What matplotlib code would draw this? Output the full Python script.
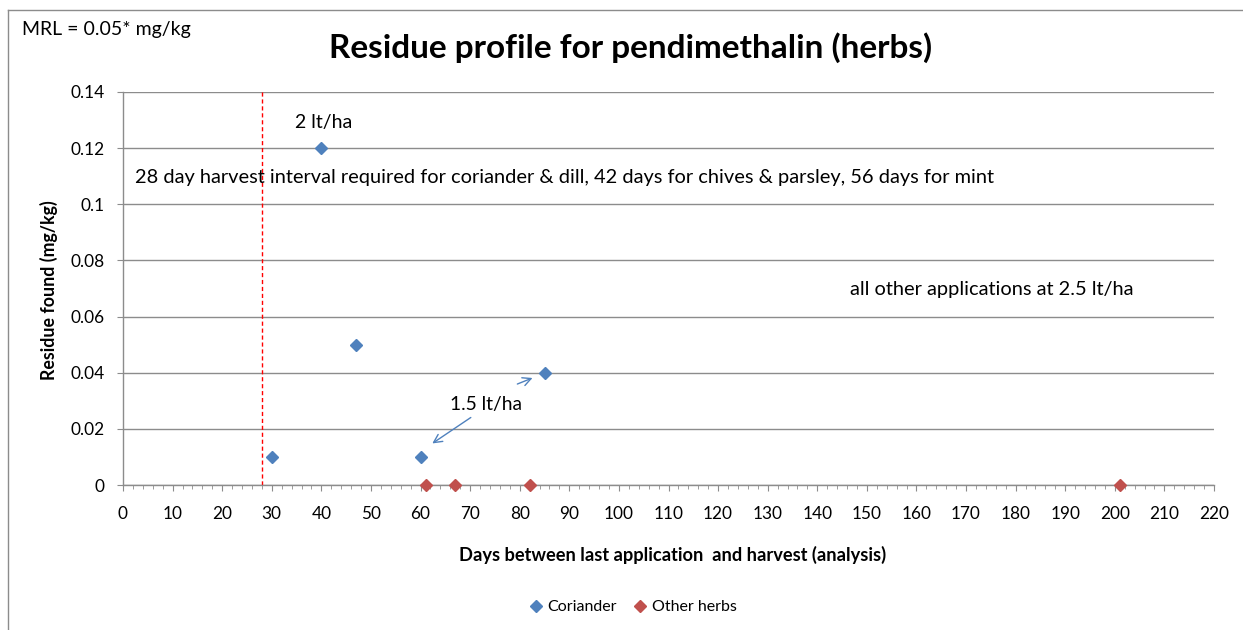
import matplotlib
matplotlib.use("Agg")
import matplotlib.pyplot as plt
from matplotlib.ticker import MultipleLocator
from matplotlib.lines import Line2D

plt.rcParams['font.family'] = ['Lato', 'DejaVu Sans']

coriander_days = [30, 40, 47, 60, 85]
coriander_res = [0.01, 0.12, 0.05, 0.01, 0.04]
other_days = [61, 67, 82, 201]
other_res = [0.0, 0.0, 0.0, 0.0]
harvest_interval = 28
y_ticks = [0, 0.02, 0.04, 0.06, 0.08, 0.1, 0.12, 0.14]
y_ticklabels = ['0', '0.02', '0.04', '0.06', '0.08', '0.1', '0.12', '0.14']

blue = '#4F81BD'
red = '#C0504D'
grid = '#8C8C8C'

W, H = 1243, 630
fig = plt.figure(figsize=(W / 100, H / 100), dpi=100)
ax = fig.add_axes([123 / W, 1 - 485 / H, (1214 - 123) / W, (485 - 92) / H])

ax.set_xlim(0, 220)
ax.set_ylim(0, 0.14)
ax.xaxis.set_major_locator(MultipleLocator(10))
ax.xaxis.set_minor_locator(MultipleLocator(2))
ax.set_yticks(y_ticks)
ax.set_yticklabels(y_ticklabels)
ax.grid(axis='y', color=grid, linewidth=1.0, zorder=0)
ax.set_axisbelow(True)
for s in ['top', 'right']:
    ax.spines[s].set_visible(False)
for s in ['left', 'bottom']:
    ax.spines[s].set_color(grid)
    ax.spines[s].set_linewidth(1.0)
ax.tick_params(axis='both', which='major', direction='out', length=4.3, color=grid,
               labelsize=11.8)
ax.tick_params(axis='y', which='major', pad=9)
ax.tick_params(axis='x', which='major', pad=11)
ax.tick_params(axis='x', which='minor', direction='out', length=3, color=grid)

ax.axvline(harvest_interval, color='red', linestyle=(0, (3, 2)), linewidth=1.0, zorder=2)

ax.plot(coriander_days, coriander_res, linestyle='none', marker='D', markersize=6.5,
        color=blue, zorder=4, clip_on=False)
ax.plot(other_days, other_res, linestyle='none', marker='D', markersize=6.5,
        color=red, zorder=4, clip_on=False)

xl = ax.set_xlabel('Days between last application  and harvest (analysis)', fontsize=10.5,
                   fontweight='bold', va='center')
ax.xaxis.set_label_coords((673 - 123) / 1091, (485 - 555) / 393)
yl = ax.set_ylabel('Residue found (mg/kg)', fontsize=10.5, fontweight='bold', va='center')
ax.yaxis.set_label_coords((49 - 123) / 1091, (485 - 290) / 393)

t_2 = ax.text(40.5, 0.129, '2 lt/ha', fontsize=12, ha='center', va='center')
t_28 = ax.text(2.4, 0.1097, '28 day harvest interval required for coriander & dill, 42 days for chives & parsley, 56 days for mint',
               fontsize=12, ha='left', va='center')
t_all = ax.text(146.6, 0.0695, 'all other applications at 2.5 lt/ha', fontsize=12, ha='left', va='center')
t_15 = ax.text(73.2, 0.0285, '1.5 lt/ha', fontsize=12, ha='center', va='center')
ax.annotate('', xy=(83.1, 0.0385), xytext=(79.0, 0.0356),
            arrowprops=dict(arrowstyle='->', color=blue, lw=1.0, mutation_scale=15))
ax.annotate('', xy=(61.9, 0.01425), xytext=(70.6, 0.0246),
            arrowprops=dict(arrowstyle='->', color=blue, lw=1.0, mutation_scale=15))

t_title = fig.text(631 / W, 1 - 48 / H, 'Residue profile for pendimethalin (herbs)', fontsize=19,
                   fontweight='bold', ha='center', va='center')
t_mrl = fig.text(22 / W, 1 - 30 / H, 'MRL = 0.05* mg/kg', fontsize=12, ha='left', va='center')

handles = [Line2D([], [], linestyle='none', marker='D', markersize=6, color=blue),
           Line2D([], [], linestyle='none', marker='D', markersize=6, color=red)]
leg = fig.legend(handles, ['Coriander', 'Other herbs'], loc='center',
                 bbox_to_anchor=(633 / W, 1 - 607 / H),
                 ncol=2, frameon=False, fontsize=11.5, handlelength=0.8, handletextpad=0.3,
                 columnspacing=1.1)

# fit text sizes to the reference widths (pixels)
fig.canvas.draw()
r = fig.canvas.get_renderer()
def scale_for(t, px, vertical=False):
    bb = t.get_window_extent(r)
    cur = bb.height if vertical else bb.width
    return t.get_fontsize() * px / cur

def fit(t, px, vertical=False):
    t.set_fontsize(scale_for(t, px, vertical))

fit(t_title, 602)
fit(t_28, 858)
fit(t_all, 283)
fit(t_mrl, 168)
fit(t_2, 57)
fit(t_15, 72)
fit(xl, 427)
fit(yl, 180, vertical=True)
tick_size = scale_for(ax.get_yticklabels()[-1], 34)
ax.tick_params(axis='both', which='major', labelsize=tick_size)

# outer chart border (left and top visible)
fig.add_artist(Line2D([8 / W, 8 / W], [0, 1 - 10 / H], transform=fig.transFigure,
                      color=grid, linewidth=1.0))
fig.add_artist(Line2D([8 / W, 1], [1 - 10 / H, 1 - 10 / H], transform=fig.transFigure,
                      color=grid, linewidth=1.0))

fig.savefig('out.png', dpi=100)
